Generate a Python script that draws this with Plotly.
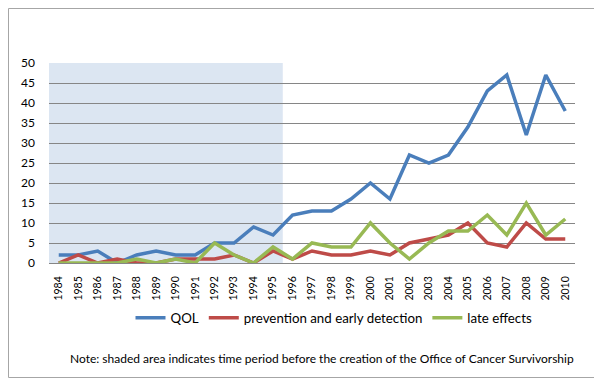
import plotly.graph_objects as go

years = [str(y) for y in range(1984, 2011)]
qol = [2, 2, 3, 0, 2, 3, 2, 2, 5, 5, 9, 7, 12, 13, 13, 16, 20, 16, 27, 25, 27, 34, 43, 47, 32, 47, 38]
prevention = [0, 2, 0, 1, 0, 0, 1, 1, 1, 2, 0, 3, 1, 3, 2, 2, 3, 2, 5, 6, 7, 10, 5, 4, 10, 6, 6]
late_effects = [0, 0, 0, 0, 1, 0, 1, 0, 5, 2, 0, 4, 1, 5, 4, 4, 10, 5, 1, 5, 8, 8, 12, 7, 15, 7, 11]
series_names = ["QOL", "prevention and early detection", "late effects"]
colors = ["#4A7EBB", "#BE4B48", "#98B954"]
shade_end_year = "1995"

fig = go.Figure()
for name, vals, c in zip(series_names, [qol, prevention, late_effects], colors):
    fig.add_trace(go.Scatter(x=years, y=vals, mode="lines", name=name,
                             line=dict(color=c, width=3.5)))

idx_end = years.index(shade_end_year)
fig.add_shape(type="rect", xref="x", yref="y", x0=-0.5, x1=idx_end + 0.5, y0=0, y1=50,
              fillcolor="#DCE6F2", line=dict(width=0), layer="below")

# page body has an 8px default margin; compensate
OFF = 8
FW, FH = 602 - OFF, 384 - OFF
L, R, T, B = 49 - OFF, 27, 63 - OFF, 121
W, H = FW - L - R, FH - T - B
def px(xp): return (xp - OFF - L) / W
def py(yp): return (FH - B - (yp - OFF)) / H

fig.add_shape(type="rect", xref="paper", yref="paper", x0=px(8.5), x1=px(595.5), y0=py(377.5), y1=py(8.5),
              line=dict(color="#A6A6A6", width=1), fillcolor="rgba(0,0,0,0)")

fig.add_annotation(text="Note: shaded area indicates time period before the creation of the Office of Cancer Survivorship",
                   xref="paper", yref="paper", x=px(322), y=py(358), showarrow=False,
                   font=dict(size=12, color="#000000"), xanchor="center", yanchor="middle")

fig.update_layout(
    width=FW, height=FH,
    margin=dict(l=L, r=R, t=T, b=B, autoexpand=False),
    paper_bgcolor="white", plot_bgcolor="white",
    font=dict(family="Lato, Open Sans, sans-serif", color="#000000"),
    showlegend=True,
    legend=dict(orientation="h", x=px(334), xanchor="center", y=py(318), yanchor="middle",
                font=dict(size=13.3), itemwidth=30, tracegroupgap=0),
    xaxis=dict(type="category", range=[-0.5, len(years) - 0.5], tickangle=-90,
               tickfont=dict(size=10.5), showgrid=False, showline=True, linecolor="#868686",
               ticks="", ticklabelstandoff=8, fixedrange=True),
    yaxis=dict(range=[0, 50], dtick=5, tickfont=dict(size=12), showgrid=True,
               gridcolor="#868686", gridwidth=1, zeroline=False, showline=False,
               ticks="", ticklabelstandoff=13, fixedrange=True),
)

fig.write_html("out.html")
